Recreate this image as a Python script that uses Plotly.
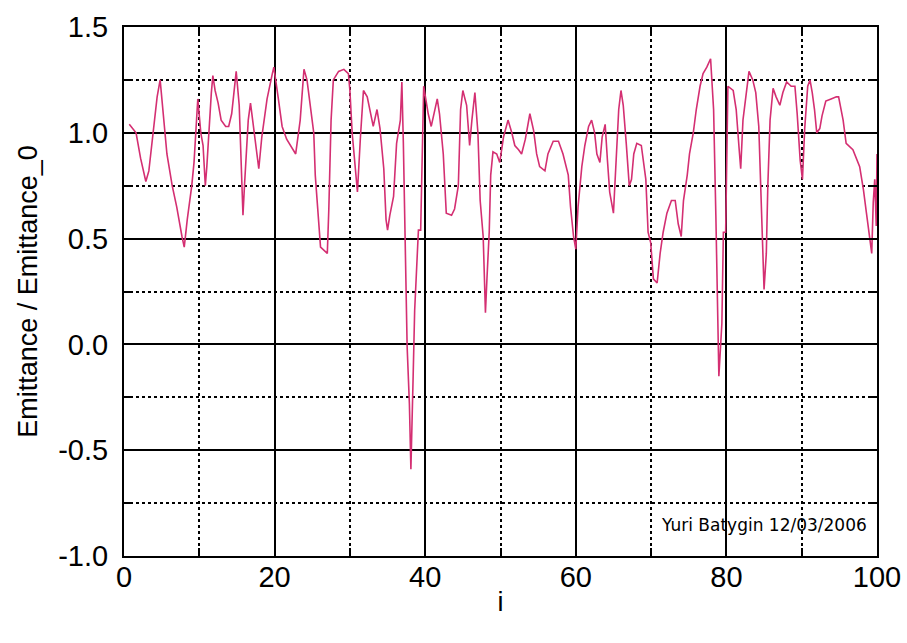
import plotly.graph_objects as go

i_vals = [0.7, 1.6, 2.2, 2.9, 3.3, 4.1, 4.4, 4.8, 5.4, 5.7, 6.4, 7.0, 7.7, 8.0, 8.4, 9.0, 9.3, 9.6, 9.8,
          10.2, 10.5, 10.8, 11.0, 11.6, 11.8, 12.1, 12.5, 12.9, 13.5, 13.9, 14.3, 14.6, 14.9, 15.3, 15.6,
          15.8, 16.0, 16.5, 16.8, 17.2, 17.9, 18.3, 19.0, 19.7, 19.9, 20.5, 21.0, 21.6, 22.8, 23.4, 23.9,
          24.3, 24.7, 25.2, 25.4, 25.8, 26.1, 27.0, 27.2, 27.5, 27.8, 28.5, 29.2, 29.8, 30.0, 30.3, 30.7,
          31.0, 31.4, 31.8, 32.3, 32.7, 33.1, 33.6, 34.0, 34.5, 34.8, 35.0, 35.3, 35.8, 36.2, 36.7, 36.9,
          37.1, 37.4, 37.6, 37.9, 38.1, 38.4, 38.6, 39.1, 39.4, 39.8, 40.0, 40.4, 40.8, 41.1, 41.6, 41.9,
          42.4, 42.8, 43.5, 43.9, 44.4, 44.7, 45.0, 45.5, 45.9, 46.2, 46.6, 47.0, 47.3, 47.7, 48.0, 48.2,
          48.5, 48.7, 49.0, 49.5, 49.9, 50.4, 51.0, 51.5, 51.9, 52.4, 52.8, 53.3, 53.9, 54.4, 54.8, 55.2,
          55.9, 56.3, 57.0, 57.7, 58.3, 59.0, 59.3, 59.7, 60.0, 60.3, 60.8, 61.2, 61.7, 62.1, 62.5, 62.8,
          63.2, 63.5, 63.9, 64.2, 64.5, 65.0, 65.4, 65.7, 66.0, 66.3, 66.7, 67.1, 67.4, 67.7, 68.1, 68.7,
          69.3, 69.6, 69.95, 70.3, 70.8, 71.2, 71.6, 72.1, 72.7, 73.2, 73.6, 74.0, 74.3, 74.8, 75.1, 75.6,
          76.0, 76.5, 76.9, 77.4, 77.9, 78.3, 78.6, 78.8, 79.0, 79.4, 79.6, 79.9, 80.2, 80.9, 81.3, 81.7,
          81.9, 82.2, 82.7, 83.0, 83.5, 83.9, 84.3, 84.6, 85.0, 85.3, 85.5, 85.8, 86.2, 86.6, 87.1, 87.5,
          88.0, 88.6, 89.1, 89.4, 89.8, 90.1, 90.4, 90.8, 91.1, 91.4, 91.7, 92.0, 92.4, 92.7, 93.2, 93.9,
          94.6, 94.9, 95.5, 95.9, 96.8, 97.7, 98.2, 98.6, 98.9, 99.3, 99.5, 99.7, 99.9, 100.0]

emittance_ratio = [1.04, 1.0, 0.88, 0.77, 0.82, 1.06, 1.17, 1.25, 1.03, 0.9, 0.75, 0.65, 0.51, 0.46, 0.59,
                   0.75, 0.86, 1.06, 1.16, 1.0, 0.94, 0.75, 0.84, 1.19, 1.27, 1.2, 1.14, 1.06, 1.03, 1.03,
                   1.09, 1.19, 1.29, 1.13, 0.78, 0.61, 0.75, 1.06, 1.14, 1.02, 0.83, 0.98, 1.16, 1.28, 1.31,
                   1.16, 1.03, 0.97, 0.9, 1.06, 1.3, 1.25, 1.14, 1.0, 0.80, 0.59, 0.46, 0.43, 0.64, 1.06,
                   1.25, 1.29, 1.30, 1.28, 1.2, 1.0, 0.83, 0.72, 0.98, 1.2, 1.17, 1.09, 1.03, 1.11, 1.02,
                   0.83, 0.59, 0.54, 0.61, 0.70, 0.95, 1.06, 1.24, 0.95, 0.34, -0.01, -0.28, -0.59, -0.15,
                   0.16, 0.54, 0.54, 1.22, 1.17, 1.09, 1.03, 1.08, 1.16, 1.09, 0.9, 0.62, 0.61, 0.64, 0.75,
                   1.11, 1.2, 1.13, 0.94, 1.06, 1.19, 1.0, 0.68, 0.51, 0.15, 0.31, 0.53, 0.8, 0.91, 0.9,
                   0.86, 0.98, 1.06, 1.0, 0.94, 0.92, 0.9, 0.97, 1.09, 1.01, 0.9, 0.84, 0.82, 0.9, 0.96,
                   0.96, 0.9, 0.8, 0.65, 0.51, 0.45, 0.65, 0.84, 0.94, 1.03, 1.06, 1.0, 0.9, 0.86, 0.98,
                   1.04, 0.87, 0.72, 0.62, 0.92, 1.11, 1.2, 1.13, 0.95, 0.75, 0.78, 0.9, 0.95, 0.94, 0.78,
                   0.53, 0.48, 0.31, 0.29, 0.43, 0.53, 0.62, 0.68, 0.68, 0.57, 0.51, 0.68, 0.8, 0.9, 1.0,
                   1.11, 1.22, 1.28, 1.31, 1.35, 1.11, 0.61, 0.12, -0.15, 0.1, 0.53, 0.53, 1.22, 1.2, 1.11,
                   0.92, 0.83, 1.06, 1.22, 1.29, 1.25, 1.19, 1.03, 0.73, 0.26, 0.43, 0.75, 1.06, 1.21, 1.17,
                   1.13, 1.19, 1.24, 1.22, 1.22, 1.09, 0.87, 0.78, 1.02, 1.22, 1.25, 1.19, 1.11, 1.0, 1.02,
                   1.08, 1.15, 1.16, 1.17, 1.17, 1.06, 0.95, 0.92, 0.84, 0.73, 0.62, 0.53, 0.43, 0.67, 0.78,
                   0.56, 0.9]

x_ticks = [0, 20, 40, 60, 80, 100]
y_ticks = [-1.0, -0.5, 0.0, 0.5, 1.0, 1.5]
y_tick_text = ["-1.0", "-0.5", "0.0", "0.5", "1.0", "1.5"]

fig = go.Figure(go.Scatter(x=i_vals, y=emittance_ratio, mode="lines",
                           line=dict(color="#d42f72", width=1.6), hoverinfo="x+y"))

common = dict(showline=True, linecolor="black", linewidth=2, mirror="ticks",
              ticks="inside", ticklen=8, tickwidth=1.5, tickcolor="black",
              showgrid=True, gridcolor="black", gridwidth=1.5, zeroline=False,
              automargin=False,
              tickfont=dict(size=29, color="black", family="Liberation Sans"))

fig.update_xaxes(range=[0, 100], tickvals=x_ticks, ticklabelstandoff=-6,
                 minor=dict(tick0=0, dtick=10, showgrid=True, gridcolor="black", griddash="dot",
                            gridwidth=1.5, ticks="inside", ticklen=8, tickcolor="black"),
                 title=dict(text="i", font=dict(size=27, color="black"), standoff=0), **common)
fig.update_yaxes(range=[-1.0, 1.5], tickvals=y_ticks, ticktext=y_tick_text, ticklabelstandoff=8,
                 minor=dict(tick0=0, dtick=0.25, showgrid=True, gridcolor="black", griddash="dot",
                            gridwidth=1.5, ticks="inside", ticklen=8, tickcolor="black"),
                 title=dict(text="Emittance / Emittance_0", font=dict(size=27, color="black"), standoff=13),
                 **common)

fig.add_annotation(text="Yuri Batygin 12/03/2006", xref="paper", yref="paper", x=0.99, y=0.059,
                   xanchor="right", yanchor="middle", showarrow=False,
                   font=dict(size=17, color="black", family="DejaVu Sans"))

fig.update_layout(width=907, height=643, margin=dict(l=124, r=30, t=27, b=87),
                  plot_bgcolor="white", paper_bgcolor="white", showlegend=False,
                  font=dict(family="Liberation Sans", color="black"))

fig.write_html("out.html")
